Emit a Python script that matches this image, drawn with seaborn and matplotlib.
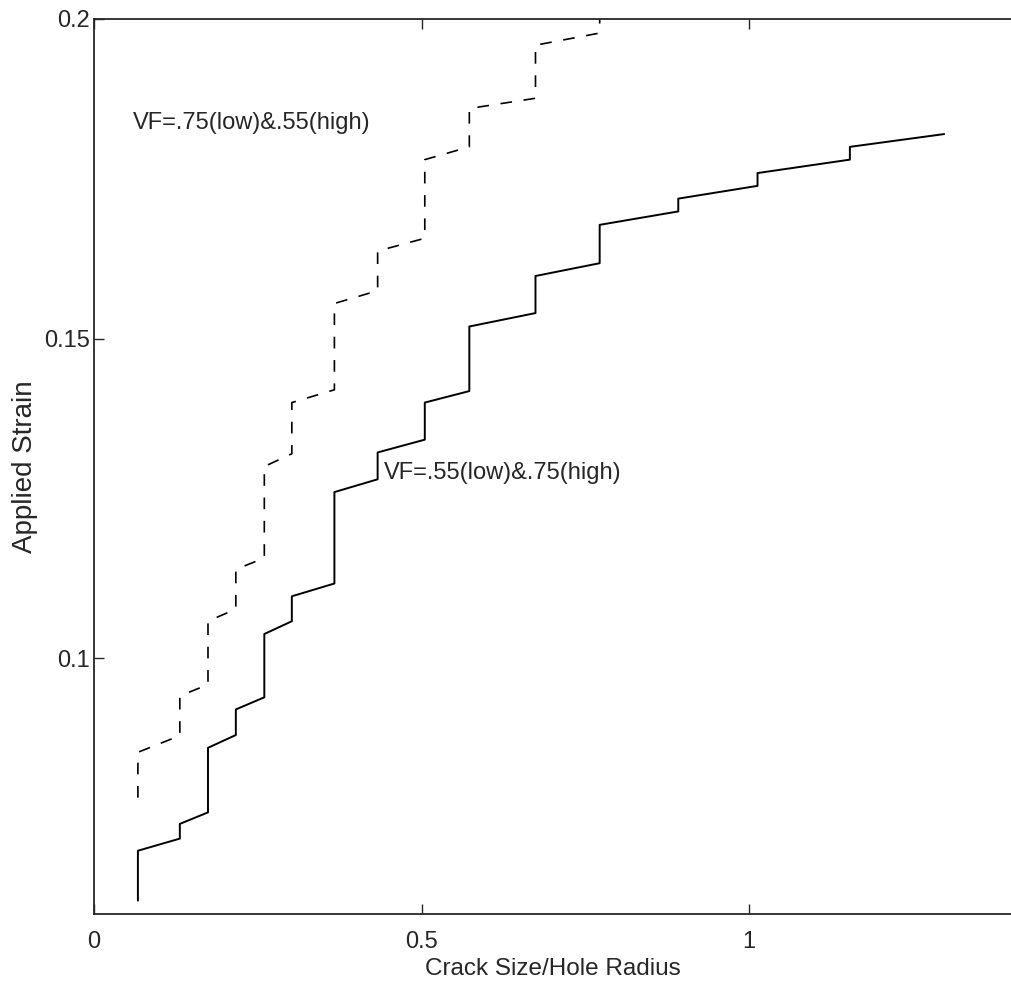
import numpy as np
import pandas as pd
import matplotlib
matplotlib.use("Agg")
import matplotlib.pyplot as plt
import seaborn as sns

# -----------------------------------------
# Data (vertices)
# -----------------------------------------

solid_x = [0.067, 0.067, 0.131, 0.131, 0.174, 0.174, 0.2165, 0.2165, 0.260, 0.260,
           0.302, 0.302, 0.367, 0.367, 0.433, 0.433, 0.505, 0.505, 0.573, 0.573,
           0.674, 0.674, 0.772, 0.772, 0.892, 0.892, 1.013, 1.013, 1.154, 1.154, 1.298]
solid_y = [0.0621, 0.0699, 0.0718, 0.0741, 0.0759, 0.0860, 0.0880, 0.0920, 0.0939, 0.1038,
           0.1058, 0.1097, 0.1117, 0.1260, 0.1280, 0.1322, 0.1342, 0.1400, 0.1418, 0.1519,
           0.1540, 0.1598, 0.1618, 0.1678, 0.1699, 0.1719, 0.1739, 0.1759, 0.1780, 0.1800, 0.1820]

dashed_x = [0.067, 0.067, 0.131, 0.131, 0.174, 0.174, 0.2165, 0.2165, 0.260, 0.260,
            0.302, 0.302, 0.367, 0.367, 0.433, 0.433, 0.505, 0.505, 0.573, 0.573,
            0.674, 0.674, 0.772, 0.772]
dashed_y = [0.0782, 0.0853, 0.0879, 0.0941, 0.0959, 0.1058, 0.1077, 0.1139, 0.1157, 0.1300,
            0.1320, 0.1400, 0.1420, 0.1555, 0.1575, 0.1637, 0.1657, 0.1780, 0.1800, 0.1860,
            0.1876, 0.1959, 0.1978, 0.2040]

label_hi = "VF=.75(low)&.55(high)"
label_lo = "VF=.55(low)&.75(high)"

x_ticks = [0, 0.5, 1]
x_tick_labels = ["0", "0.5", "1"]
y_ticks = [0.1, 0.15, 0.2]
y_tick_labels = ["0.1", "0.15", "0.2"]

# -----------------------------------------
# Style
# -----------------------------------------

sns.set_style("ticks")
plt.rcParams["font.family"] = ["Liberation Sans", "DejaVu Sans"]

fig = plt.figure(figsize=(10.11, 9.89), dpi=100)
ax = fig.add_axes([0.093, 0.0758, 0.907, 0.905])

# -----------------------------------------
# Lines
# -----------------------------------------

solid_df = pd.DataFrame({"x": solid_x, "y": solid_y})
dashed_df = pd.DataFrame({"x": dashed_x, "y": dashed_y})

sns.lineplot(data=solid_df, x="x", y="y", sort=False, estimator=None,
             color="black", linewidth=1.4, ax=ax)
sns.lineplot(data=dashed_df, x="x", y="y", sort=False, estimator=None,
             color="black", linewidth=1.2, dashes=False, ax=ax)
ax.lines[-1].set_dashes((7, 7))

# -----------------------------------------
# Annotations
# -----------------------------------------

ax.text(0.059, 0.1838, label_hi, fontsize=17, va="center", ha="left")
ax.text(0.443, 0.1290, label_lo, fontsize=17, va="center", ha="left")

# -----------------------------------------
# Axes
# -----------------------------------------

ax.set_xlim(0, 1.4)
ax.set_ylim(0.06, 0.2)
ax.set_xticks(x_ticks)
ax.set_xticklabels(x_tick_labels)
ax.set_yticks(y_ticks)
ax.set_yticklabels(y_tick_labels)

ax.tick_params(axis="both", direction="in", length=7, width=1, labelsize=17,
               top=True, right=False)
ax.tick_params(axis="x", pad=12)
ax.tick_params(axis="y", pad=3)

for side in ["left", "bottom", "top"]:
    ax.spines[side].set_linewidth(1.3)
ax.spines["right"].set_visible(False)

ax.set_xlabel("Crack Size/Hole Radius", fontsize=17.5, labelpad=4)
ax.set_ylabel("Applied Strain", fontsize=20, labelpad=4)

fig.savefig("out.png", dpi=100)
